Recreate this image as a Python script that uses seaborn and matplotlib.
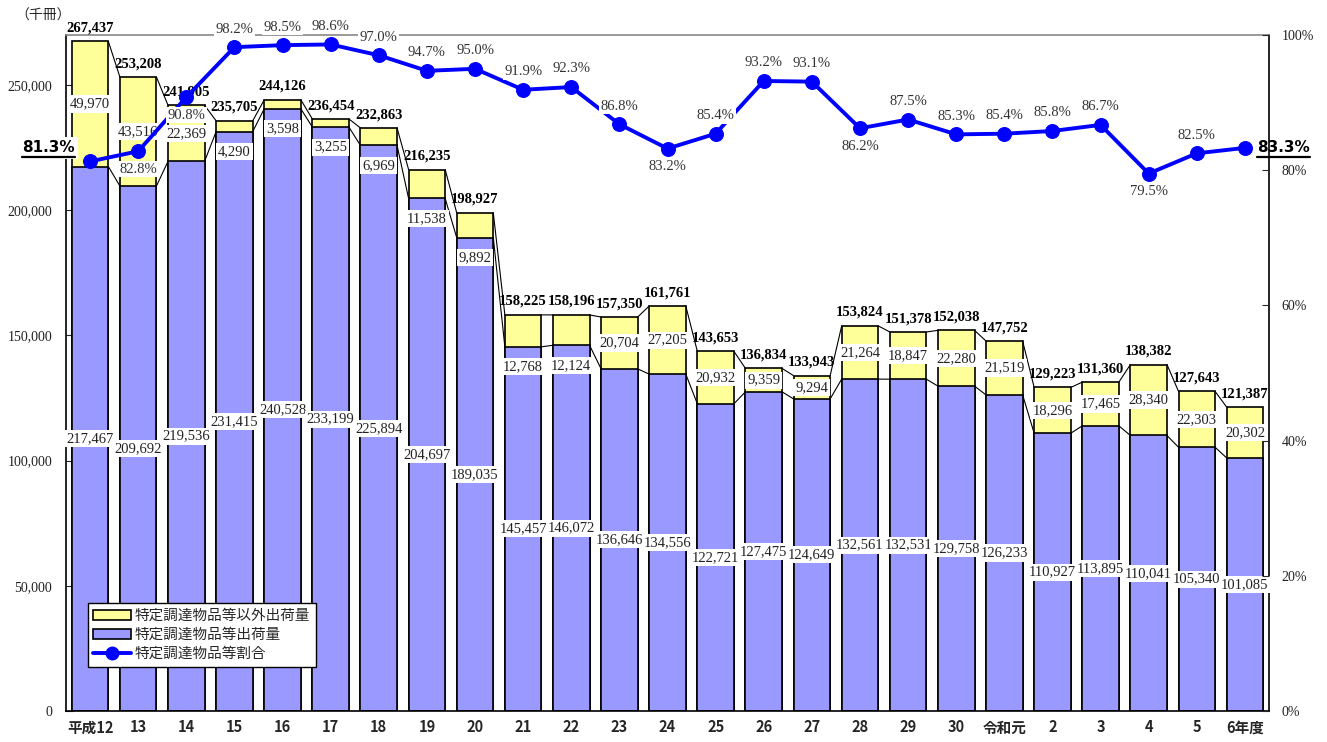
import numpy as np
import pandas as pd
import matplotlib
matplotlib.use("Agg")
import matplotlib.pyplot as plt
from matplotlib.patches import Patch
from matplotlib.lines import Line2D
import seaborn as sns

# data (thousand volumes)
years = ["平成12", "13", "14", "15", "16", "17", "18", "19", "20", "21", "22", "23", "24",
         "25", "26", "27", "28", "29", "30", "令和元", "2", "3", "4", "5", "6年度"]
totals = [267437, 253208, 241905, 235705, 244126, 236454, 232863, 216235, 198927, 158225,
          158196, 157350, 161761, 143653, 136834, 133943, 153824, 151378, 152038, 147752,
          129223, 131360, 138382, 127643, 121387]
specified = [217467, 209692, 219536, 231415, 240528, 233199, 225894, 204697, 189035, 145457,
             146072, 136646, 134556, 122721, 127475, 124649, 132561, 132531, 129758, 126233,
             110927, 113895, 110041, 105340, 101085]
others = [49970, 43516, 22369, 4290, 3598, 3255, 6969, 11538, 9892, 12768,
          12124, 20704, 27205, 20932, 9359, 9294, 21264, 18847, 22280, 21519,
          18296, 17465, 28340, 22303, 20302]
ratio = [81.3, 82.8, 90.8, 98.2, 98.5, 98.6, 97.0, 94.7, 95.0, 91.9, 92.3, 86.8, 83.2,
         85.4, 93.2, 93.1, 86.2, 87.5, 85.3, 85.4, 85.8, 86.7, 79.5, 82.5, 83.3]

legend_labels = ["特定調達物品等以外出荷量", "特定調達物品等出荷量", "特定調達物品等割合"]

df = pd.DataFrame({"year": years, "total": totals, "spec": specified, "other": others, "ratio": ratio})

sns.set_style("white")
plt.rcParams["font.family"] = ["Liberation Serif", "Noto Sans CJK JP"]
CJK = ["Noto Sans CJK JP", "DejaVu Sans"]

YELLOW = "#FFFF99"
BLUE = "#9999FF"
LINE = "#0000FF"
W = 0.76

fig = plt.figure(figsize=(13.27, 7.42), dpi=100)
ax = fig.add_axes([66 / 1327, 31 / 742, 1203 / 1327, 676 / 742])

sns.barplot(data=df, x="year", y="total", color=YELLOW, edgecolor="black", linewidth=1.2,
            width=W, saturation=1, ax=ax)
sns.barplot(data=df, x="year", y="spec", color=BLUE, edgecolor="black", linewidth=1.2,
            width=W, saturation=1, ax=ax)

n = len(years)
# series lines between bars
for i in range(n - 1):
    for s in (totals, specified):
        ax.plot([i + W / 2, i + 1 - W / 2], [s[i], s[i + 1]], color="black", lw=0.8, zorder=1)

ax.set_xlim(-0.5, n - 0.5)
ax.set_ylim(0, 270000)
ax.set_yticks(np.arange(0, 250001, 50000))
ax.set_yticklabels([f"{v:,}" for v in range(0, 250001, 50000)], fontsize=10, color="#222222")
ax.set_xlabel("")
ax.set_ylabel("")
ax.set_xticks(range(n))
ax.set_xticklabels(years, fontsize=10.5, fontweight="bold", family=CJK)
ax.set_xticks(np.arange(0.5, n - 1, 1), minor=True)
ax.tick_params(axis="x", which="major", length=0, pad=6)
ax.tick_params(axis="x", which="minor", direction="in", length=4, width=0.8)
ax.tick_params(axis="y", direction="in", length=5, width=0.8, pad=10)
for side in ("left", "bottom", "right"):
    ax.spines[side].set_color("black")
    ax.spines[side].set_linewidth(1.2)
ax.spines["top"].set_color("#888888")
ax.spines["top"].set_linewidth(1.2)

box = dict(facecolor="white", edgecolor="none", pad=1.5)
for i in range(n):
    ax.annotate(f"{totals[i]:,}", (i, totals[i]), xytext=(0, 5), textcoords="offset points",
                ha="center", va="bottom", fontsize=10.5, fontweight="bold", color="black",
                zorder=5)
    if others[i] < 13000 and i not in (14, 15):
        yo = specified[i] - 8000
    else:
        yo = specified[i] + others[i] / 2
    ax.text(i, yo, f"{others[i]:,}", ha="center", va="center", fontsize=10.5,
            color="#222222", bbox=box, zorder=5)
    ax.text(i, specified[i] / 2, f"{specified[i]:,}", ha="center", va="center",
            fontsize=10.5, color="#222222", bbox=box, zorder=5)

fig.text(15 / 1327, 1 - 16 / 742, "（千冊）", ha="left", va="center", fontsize=10, family=CJK)

# ratio line on the secondary axis
ax2 = ax.twinx()
sns.lineplot(x=np.arange(n), y=ratio, ax=ax2, color=LINE, marker="o", markersize=10,
             markeredgecolor=LINE, linewidth=2.8)
ax2.set_xlim(-0.5, n - 0.5)
ax2.set_ylim(0, 100)
ax2.set_yticks(range(0, 101, 20))
ax2.set_yticklabels([f"{v}%" for v in range(0, 101, 20)], fontsize=10, color="#222222")
ax2.tick_params(axis="y", direction="in", length=5, width=0.8, pad=9)
ax2.set_ylabel("")
for sp in ax2.spines.values():
    sp.set_visible(False)

below = {1, 2, 12, 16, 22}
for i in range(1, n - 1):
    dy = -13 if i in below else 13
    ax2.annotate(f"{ratio[i]:.1f}%", (i, ratio[i]), xytext=(0, dy), textcoords="offset points",
                 ha="center", va="center", fontsize=10.5, color="#333333",
                 bbox=dict(facecolor="white", edgecolor="none", pad=1), zorder=6)

t_first = ax2.annotate(f"{ratio[0]:.1f}%", (0, ratio[0]), xytext=(-30, 10), textcoords="offset points",
                       ha="center", va="center", fontsize=11, fontweight="bold",
                       family="DejaVu Sans", color="black", annotation_clip=False,
                       bbox=dict(facecolor="white", edgecolor="none", pad=2.5), zorder=6)
t_last = ax2.annotate(f"{ratio[-1]:.1f}%", (n - 1, ratio[-1]), xytext=(28, 0), textcoords="offset points",
                      ha="center", va="center", fontsize=11, fontweight="bold",
                      family="DejaVu Sans", color="black", annotation_clip=False, zorder=6)

handles = [Patch(facecolor=YELLOW, edgecolor="black", linewidth=1.2),
           Patch(facecolor=BLUE, edgecolor="black", linewidth=1.2),
           Line2D([0], [0], color=LINE, lw=2.8, marker="o", markersize=9)]
leg = ax2.legend(handles, legend_labels, loc="lower left", bbox_to_anchor=(0.018, 0.065),
                 prop={"family": CJK, "size": 10.5}, frameon=True, fancybox=False,
                 edgecolor="black", framealpha=1, borderpad=0.4, labelspacing=0.35,
                 handlelength=2.6, handletextpad=0.2, borderaxespad=0)
leg.get_frame().set_linewidth(1)
leg.set_zorder(10)

# underline the first and last ratio labels
fig.canvas.draw()
r = fig.canvas.get_renderer()
inv = ax2.transData.inverted()
for t in (t_first, t_last):
    bb = t.get_window_extent(renderer=r)
    (xa, ya), (xb, _) = inv.transform([(bb.x0, bb.y0 - 2), (bb.x1, bb.y0 - 2)])
    ax2.plot([xa, xb], [ya, ya], color="black", lw=1.6, clip_on=False, zorder=12)

fig.savefig("out.png", dpi=100)
